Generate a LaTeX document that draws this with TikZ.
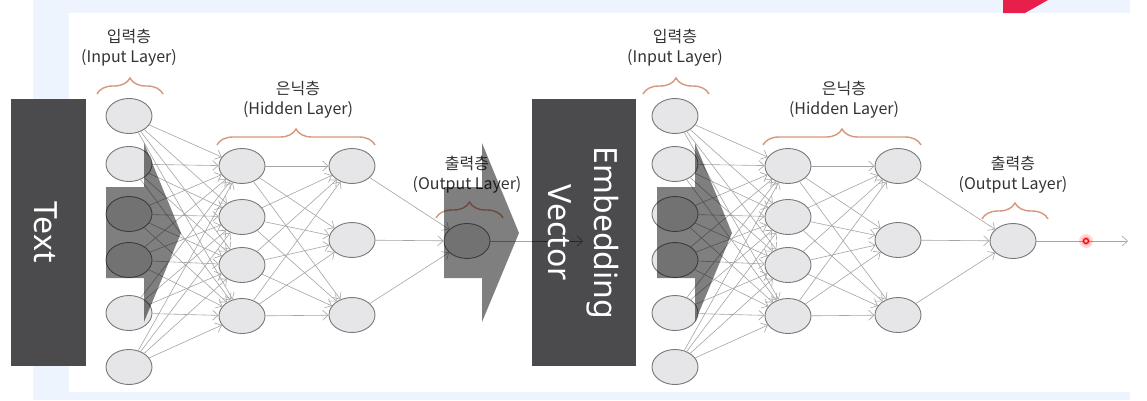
\documentclass[tikz,border=0pt]{standalone}
\usepackage{fontspec}
\setmainfont{Noto Sans CJK KR}
\newfontfamily\bigfont{Noto Sans}
\usetikzlibrary{arrows.meta,shapes.geometric,decorations.pathreplacing}
\definecolor{bgblue}{RGB}{238,244,253}
\definecolor{boxdark}{RGB}{75,75,77}
\definecolor{braceclr}{RGB}{214,152,122}
\definecolor{nodefill}{RGB}{230,230,232}
\definecolor{nodeline}{RGB}{120,120,120}
\definecolor{connclr}{RGB}{165,165,165}
\definecolor{slidered}{RGB}{232,30,75}
\begin{document}
\begin{tikzpicture}[x=1pt,y=-1pt,
 neuron/.style={ellipse, draw=nodeline, fill=nodefill, line width=0.9pt, minimum width=46pt, minimum height=35pt, inner sep=0pt},
 conn/.style={draw=connclr, line width=0.6pt, -{Straight Barb[length=5.5pt,width=10pt]}},
 lbl/.style={align=center, font=\fontsize{16}{20}\selectfont, text=black!80},
 bracestyle/.style={draw=braceclr, line width=1.4pt, decorate, decoration={brace, amplitude=16pt}},
 darkbox/.style={fill=boxdark, draw=none, inner sep=0pt},
 shadearrow/.style={fill=black, fill opacity=0.5, draw=none},
 bigtext/.style={text=white, font=\bigfont\fontsize{32}{46}\selectfont, rotate=-90, align=center, inner sep=0pt}
]
\useasboundingbox (0,0) rectangle (1147,400);
% slide background
\fill[white] (0,0) rectangle (1147,400);
\fill[bgblue] (33,0) rectangle (1130,400);
\fill[white] (69,13) rectangle (1147,392);
\fill[slidered] (1003,0) -- (1003,13) -- (1025,13) -- (1048,0) -- cycle;

% ---------- left network ----------
\foreach \y [count=\i] in {116,164,214,260,313,367}
  \node[neuron] (a\i) at (129,\y) {};
\foreach \y [count=\i] in {166,217,265,316}
  \node[neuron] (b\i) at (242,\y) {};
\foreach \y [count=\i] in {166,240,315}
  \node[neuron] (d\i) at (352,\y) {};
\node[neuron] (o1) at (467,241) {};

% ---------- right network ----------
\foreach \y [count=\i] in {116,164,214,260,313,367}
  \node[neuron] (p\i) at (675,\y) {};
\foreach \y [count=\i] in {166,217,265,316}
  \node[neuron] (q\i) at (788,\y) {};
\foreach \y [count=\i] in {166,240,315}
  \node[neuron] (r\i) at (898,\y) {};
\node[neuron] (o2) at (1013,241) {};

% connectors
\foreach \i in {1,...,6}
  \foreach \j in {1,...,4} {
    \draw[conn] (a\i) -- (b\j);
    \draw[conn] (p\i) -- (q\j);
  }
\foreach \i in {1,...,4}
  \foreach \j in {1,...,3} {
    \draw[conn] (b\i) -- (d\j);
    \draw[conn] (q\i) -- (r\j);
  }
\foreach \j in {1,...,3} {
  \draw[conn] (d\j) -- (o1);
  \draw[conn] (r\j) -- (o2);
}
\coordinate (embin) at (583,241);
\coordinate (fin) at (1128,241);
\draw[conn] (o1) -- (embin);
\draw[conn] (o2) -- (fin);

% braces
\draw[bracestyle] (97,94) -- (163,94);
\draw[bracestyle] (217,145) -- (375,145);
\draw[bracestyle] (436,218) -- (503,218);
\draw[bracestyle] (643,94) -- (709,94);
\draw[bracestyle] (763,145) -- (921,145);
\draw[bracestyle] (982,219) -- (1048,219);

% labels
\node[lbl] (l1) at (129,48) {입력층\\(Input Layer)};
\node[lbl] (l2) at (298,100) {은닉층\\(Hidden Layer)};
\node[lbl] (l3) at (467,175) {출력층\\(Output Layer)};
\node[lbl] (l4) at (675,48) {입력층\\(Input Layer)};
\node[lbl] (l5) at (844,100) {은닉층\\(Hidden Layer)};
\node[lbl] (l6) at (1013,175) {출력층\\(Output Layer)};

% dark boxes
\node[darkbox, minimum width=75pt, minimum height=267pt] (textbox) at (48.5,232.5) {};
\node[bigtext] (textlbl) at (46,232) {Text};
\node[darkbox, minimum width=104pt, minimum height=267pt] (embbox) at (584,232.5) {};
\begin{scope}
  \clip (532,99) rectangle (636,366);
  \draw[conn, draw=black!85] (o1) -- (embin);
\end{scope}
\node[bigtext] (emblbl) at (583,233) {Embedding\\Vector};

% translucent block arrows
\foreach \dx in {0,338,551}
  \fill[shadearrow] ({106+\dx},187) -- ({144+\dx},187) -- ({144+\dx},143) -- ({181+\dx},233)
     -- ({144+\dx},322) -- ({144+\dx},278) -- ({106+\dx},278) -- cycle;

% laser pointer dot
\coordinate (laser) at (1086,241);
\fill[red, opacity=0.15] (laser) circle (7pt);
\fill[red, opacity=0.25] (laser) circle (4.5pt);
\draw[red, line width=1.3pt, fill=red!25] (laser) circle (2.4pt);
\end{tikzpicture}
\end{document}
